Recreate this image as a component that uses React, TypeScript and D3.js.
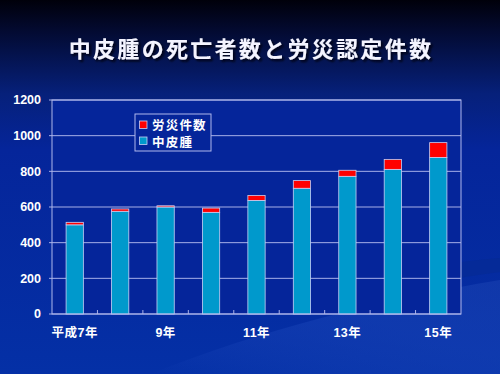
import React from 'react';
import * as d3 from 'd3';

const years = ['平成7年', '8年', '9年', '10年', '11年', '12年', '13年', '14年', '15年'];
const shownLabels = ['平成7年', '9年', '11年', '13年', '15年'];
const mesothelioma = [500, 576, 600, 570, 637, 705, 772, 811, 878];
const rousai = [14, 13, 7, 24, 28, 43, 34, 56, 83];
const yTicks = [0, 200, 400, 600, 800, 1000, 1200];

const W = 500;
const H = 374;
const plot = { left: 52, right: 461, top: 100, bottom: 314 };
const FONT = '"Liberation Sans", "Noto Sans CJK JP", sans-serif';

const App = () => {
  const x = d3.scaleBand().domain(years).range([plot.left, plot.right]).padding(0);
  const y = d3.scaleLinear().domain([0, 1200]).range([plot.bottom, plot.top]);
  const barW = x.bandwidth() * 0.38;

  return (
    <svg width={W} height={H} style={{ position: 'absolute', left: 0, top: 0 }}>
      <defs>
        <linearGradient id="bg" x1="0" y1="0" x2="0" y2="1">
          <stop offset="0" stopColor="#00000a" />
          <stop offset="0.08" stopColor="#030a30" />
          <stop offset="0.25" stopColor="#06207a" />
          <stop offset="0.4" stopColor="#05259a" />
          <stop offset="1" stopColor="#0430a6" />
        </linearGradient>
        <linearGradient id="swoosh" x1="0" y1="1" x2="1" y2="0">
          <stop offset="0" stopColor="#2a55c8" stopOpacity="0" />
          <stop offset="0.6" stopColor="#1a45b8" stopOpacity="0.5" />
          <stop offset="1" stopColor="#1840b0" stopOpacity="0.6" />
        </linearGradient>
        <filter id="shadow" x="-10%" y="-30%" width="120%" height="160%">
          <feDropShadow dx="2" dy="2" stdDeviation="0.8" floodColor="#000010" floodOpacity="0.9" />
        </filter>
      </defs>
      <rect width={W} height={H} fill="url(#bg)" />
      <path d="M150,374 C260,330 380,300 500,280 L500,374 Z" fill="url(#swoosh)" />
      <path d="M330,290 C400,270 450,262 500,258 L500,272 C440,280 390,290 330,300 Z" fill="#062a90" opacity="0.5" />

      <text x={251} y={57} textAnchor="middle" fill="#f4f4ff" fontFamily={FONT} fontWeight="bold" fontSize={22} letterSpacing={2.3} filter="url(#shadow)">
        中皮腫の死亡者数と労災認定件数
      </text>

      <rect x={plot.left} y={plot.top} width={plot.right - plot.left} height={plot.bottom - plot.top} fill="#05259a" />
      {yTicks.map(t => (
        <g key={t}>
          <line x1={plot.left - 3} x2={plot.right} y1={y(t)} y2={y(t)} stroke="#a8b0e8" strokeWidth={1} />
          <text x={41} y={y(t)} dy="0.35em" textAnchor="end" fill="#ffffff" fontFamily={FONT} fontWeight="bold" fontSize={12.5}>
            {t}
          </text>
        </g>
      ))}
      {years.slice(1).map(yr => (
        <line key={yr} x1={x(yr)!} x2={x(yr)!} y1={plot.bottom} y2={plot.bottom - 4} stroke="#a8b0e8" strokeWidth={1} />
      ))}

      {years.map((yr, i) => {
        const cx = x(yr)! + x.bandwidth() / 2;
        const m = mesothelioma[i];
        const r = rousai[i];
        return (
          <g key={yr}>
            <rect x={cx - barW / 2} y={y(m)} width={barW} height={y(0) - y(m)} fill="#0099cc" stroke="#c8d0f4" strokeWidth={0.8} />
            <rect x={cx - barW / 2} y={y(m + r)} width={barW} height={y(m) - y(m + r)} fill="#ff0000" stroke="#c8d0f4" strokeWidth={0.8} />
          </g>
        );
      })}

      <rect x={plot.left} y={plot.top} width={plot.right - plot.left} height={plot.bottom - plot.top} fill="none" stroke="#b0b8ec" strokeWidth={1} />

      {shownLabels.map(lbl => (
        <text key={lbl} x={x(lbl)! + x.bandwidth() / 2} y={337} textAnchor="middle" fill="#ffffff" fontFamily={FONT} fontWeight="bold" fontSize={12.5} letterSpacing={0.5}>
          {lbl}
        </text>
      ))}

      <g>
        <rect x={135} y={114} width={76} height={37} fill="#05259a" stroke="#b0b8ec" strokeWidth={1} />
        <rect x={139.5} y={121} width={7.5} height={7.5} fill="#ff0000" stroke="#c8d0f4" strokeWidth={0.8} />
        <text x={152} y={129.5} fill="#ffffff" fontFamily={FONT} fontWeight="bold" fontSize={12.5} letterSpacing={1.2}>労災件数</text>
        <rect x={139.5} y={137} width={7.5} height={7.5} fill="#0099cc" stroke="#c8d0f4" strokeWidth={0.8} />
        <text x={152} y={146.5} fill="#ffffff" fontFamily={FONT} fontWeight="bold" fontSize={12.5} letterSpacing={1.2}>中皮腫</text>
      </g>
    </svg>
  );
};

export default App;
